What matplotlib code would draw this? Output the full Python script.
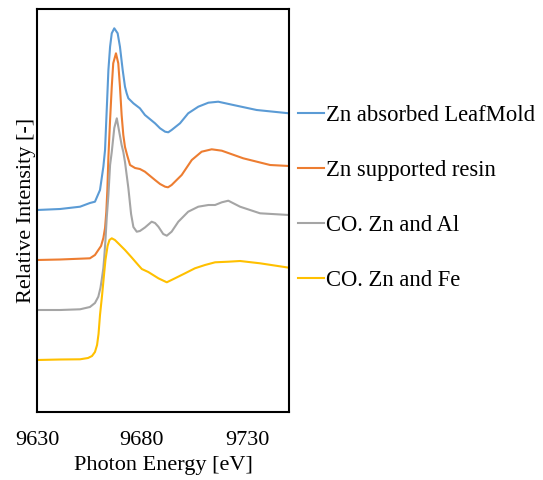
import matplotlib
matplotlib.use("Agg")
import matplotlib.pyplot as plt

plt.rcParams['font.family'] = ['Liberation Serif', 'DejaVu Serif']

labels = ["Zn absorbed LeafMold", "Zn supported resin", "CO. Zn and Al", "CO. Zn and Fe"]
colors = ["#5B9BD5", "#ED7D31", "#A5A5A5", "#FFC000"]

blue_E = [9630.0, 9641.0, 9650.5, 9655.2, 9657.6, 9660.0, 9661.6, 9662.4, 9663.2, 9664.0,
          9664.8, 9665.6, 9666.8, 9668.4, 9669.5, 9670.8, 9671.9, 9672.7, 9673.5, 9675.9,
          9679.0, 9681.4, 9686.2, 9688.6, 9691.0, 9692.5, 9694.1, 9698.1, 9702.0, 9706.8,
          9711.6, 9716.3, 9723.5, 9734.6, 9750.0]
blue_I = [2.02, 2.03, 2.053, 2.09, 2.103, 2.22, 2.453, 2.62, 3.02, 3.42,
          3.653, 3.787, 3.837, 3.787, 3.653, 3.42, 3.253, 3.187, 3.137, 3.087,
          3.037, 2.97, 2.887, 2.837, 2.803, 2.797, 2.82, 2.887, 2.987, 3.053,
          3.093, 3.103, 3.07, 3.02, 2.987]

orange_E = [9630.0, 9641.0, 9655.2, 9657.6, 9659.2, 9660.5, 9661.6, 9662.4, 9663.0, 9663.5,
            9664.0, 9664.8, 9665.6, 9666.3, 9667.6, 9668.7, 9669.5, 9670.3, 9671.1, 9671.9,
            9672.9, 9674.3, 9676.7, 9679.0, 9681.4, 9686.2, 9688.6, 9691.0, 9692.4, 9694.1,
            9698.9, 9703.7, 9708.4, 9713.2, 9718.0, 9728.2, 9741.0, 9750.0]
orange_I = [1.52, 1.525, 1.537, 1.57, 1.62, 1.66, 1.74, 1.84, 2.00, 2.22,
            2.55, 2.92, 3.253, 3.487, 3.587, 3.487, 3.253, 2.97, 2.77, 2.65,
            2.57, 2.47, 2.44, 2.43, 2.403, 2.32, 2.28, 2.253, 2.247, 2.27,
            2.37, 2.52, 2.603, 2.627, 2.613, 2.537, 2.47, 2.46]

grey_E = [9630.0, 9641.0, 9650.5, 9655.2, 9657.6, 9659.2, 9660.2, 9660.8, 9661.6, 9662.0,
          9662.6, 9663.2, 9664.0, 9664.8, 9665.6, 9666.3, 9666.8, 9668.0, 9669.0, 9670.3,
          9671.1, 9671.9, 9673.5, 9674.8, 9675.9, 9677.5, 9679.0, 9681.4, 9684.6, 9686.2,
          9687.8, 9690.1, 9691.8, 9694.1, 9697.3, 9702.0, 9706.8, 9711.6, 9714.8, 9718.0,
          9721.1, 9726.7, 9736.2, 9750.0]
grey_I = [1.02, 1.02, 1.027, 1.05, 1.09, 1.153, 1.24, 1.32, 1.44, 1.54,
          1.72, 1.94, 2.17, 2.47, 2.60, 2.74, 2.84, 2.937, 2.82, 2.67,
          2.60, 2.50, 2.24, 1.98, 1.85, 1.803, 1.81, 1.845, 1.903, 1.89,
          1.853, 1.78, 1.763, 1.803, 1.903, 2.003, 2.053, 2.07, 2.07, 2.097,
          2.113, 2.053, 1.987, 1.97]

yellow_E = [9630.0, 9641.0, 9650.5, 9654.3, 9656.2, 9657.6, 9658.6, 9659.3, 9660.0, 9661.0,
            9661.9, 9662.6, 9663.6, 9664.5, 9665.6, 9667.1, 9668.7, 9671.9, 9675.1, 9678.2,
            9679.9, 9683.0, 9687.8, 9691.8, 9695.7, 9700.5, 9705.2, 9710.0, 9714.8, 9721.1,
            9726.7, 9736.2, 9750.0]
yellow_I = [0.52, 0.525, 0.527, 0.54, 0.56, 0.60, 0.67, 0.78, 0.97, 1.17,
            1.37, 1.52, 1.66, 1.72, 1.737, 1.72, 1.687, 1.62, 1.545, 1.47,
            1.43, 1.40, 1.337, 1.297, 1.337, 1.387, 1.437, 1.47, 1.497, 1.503,
            1.51, 1.487, 1.443]

xticks = [9630, 9680, 9730]

fig = plt.figure(figsize=(5.43, 4.80), dpi=100)
ax = fig.add_axes([37/543, 1-412/480, (289-37)/543, (412-9)/480])

series = [(blue_E, blue_I), (orange_E, orange_I), (grey_E, grey_I), (yellow_E, yellow_I)]
for (E, I), lab, c in zip(series, labels, colors):
    ax.plot(E, I, color=c, lw=1.5, label=lab, solid_joinstyle='round')

ax.set_xlim(9630, 9750)
ax.set_ylim(0, 4.03)
ax.set_xticks(xticks)
ax.set_xticklabels([str(t) for t in xticks], fontsize=16)
ax.set_yticks([])
ax.tick_params(axis='x', length=0, pad=14)
for s in ax.spines.values():
    s.set_linewidth(1.5)
    s.set_color('black')

ax.set_xlabel("Photon Energy [eV]", fontsize=16, labelpad=4)
ax.set_ylabel("Relative Intensity [-]", fontsize=16, labelpad=0.5)

leg = ax.legend(loc='center left', bbox_to_anchor=(1.0, 1-(198-9)/403), frameon=False,
                fontsize=16.3, handlelength=1.15, handletextpad=0.1, labelspacing=1.5,
                borderaxespad=0.0)

fig.savefig("out.png", dpi=100)
